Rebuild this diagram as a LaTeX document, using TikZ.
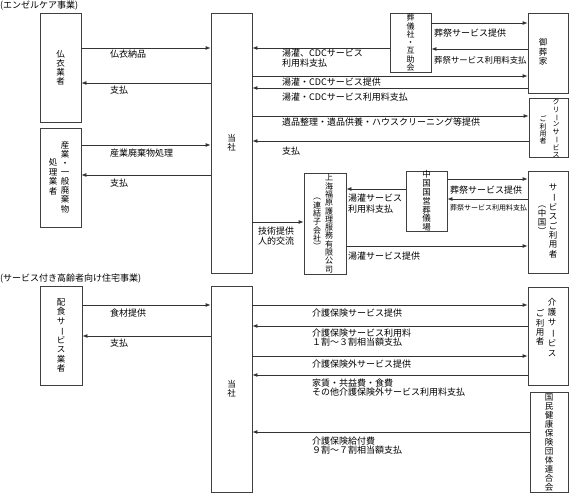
\documentclass[tikz,border=0pt]{standalone}
\usepackage{fontspec}
\newfontfamily\jp{Noto Sans CJK JP}
\usetikzlibrary{arrows.meta,fit}
\newcommand\vb{\rotatebox[origin=c]{-90}{ー}}
\begin{document}
\begin{tikzpicture}[x=1pt,y=-1pt,
  box/.style={draw=black!75, line width=0.8pt, inner sep=0pt},
  arr/.style={draw=black!80, line width=0.8pt, -{Latex[length=5pt,width=4pt]}},
  lab/.style={anchor=west, align=left, inner sep=0pt, font=\jp\fontsize{9}{10.5}\selectfont},
  vt/.style={align=center, inner sep=0pt, font=\jp\fontsize{8.5}{#1}\selectfont},
  vt/.default=9.2]
\useasboundingbox (0,0) rectangle (571,494);

% titles
\node[lab] (ttl1) at (0,6) {(エンゼルケア事業)};
\node[lab] (ttl2) at (0,279) {(サービス付き高齢者向け住宅事業)};

% boxes
\node[box, fit={(40,13) (81,122)}] (b1) {};
\node[box, fit={(40,128) (81,227)}] (b2) {};
\node[box, fit={(211,13) (252,273)}] (t1) {};
\node[box, fit={(390,13) (431,72)}] (sg) {};
\node[box, fit={(528,13) (568,93)}] (gs) {};
\node[box, fit={(529,98) (568,157)}] (cl) {};
\node[box, fit={(406,171) (447,231)}] (cn) {};
\node[box, fit={(304,173) (346,274)}] (sh) {};
\node[box, fit={(528,171) (568,273)}] (uc) {};
\node[box, fit={(40,286) (82,385)}] (hs) {};
\node[box, fit={(211,286) (252,492)}] (t2) {};
\node[box, fit={(528,287) (568,385)}] (ku) {};
\node[box, fit={(530,392) (568,492)}] (kk) {};

% box texts
\node[vt=9] (b1t) at (b1) {仏\\衣\\業\\者};
\node[vt=9.1] (b2t1) at (65,177) {産\\業\\・\\一\\般\\廃\\棄\\物};
\node[vt=9.5] (b2t2) at (53,177) {処\\理\\業\\者};
\node[vt=9.5] (t1t) at (t1) {当\\社};
\node[vt=8.25, font=\jp\fontsize{8}{8.25}\selectfont] (sgt) at (sg) {葬\\儀\\社\\・\\互\\助\\会};
\node[vt=9.25] (gst) at (543,52) {御\\葬\\家};
\node[vt, font=\jp\fontsize{7}{7.3}\selectfont] (clt1) at (556,128.5) {ク\\リ\\\vb\\ン\\サ\\\vb\\ビ\\ス};
\node[vt, font=\jp\fontsize{7}{7.3}\selectfont] (clt2) at (543,130) {ご\\利\\用\\者};
\node[vt=8.8] (cnt) at (cn) {中\\国\\国\\営\\葬\\儀\\場};
\node[vt, font=\jp\fontsize{8}{8.3}\selectfont] (sht1) at (329,223.5) {上\\海\\福\\原\\護\\理\\服\\務\\有\\限\\公\\司};
\node[vt, font=\jp\fontsize{8}{8.3}\selectfont] (sht2) at (317,224) {︵\\連\\結\\子\\会\\社\\︶};
\node[vt=9.4] (uct1) at (553,221) {サ\\\vb\\ビ\\ス\\ご\\利\\用\\者};
\node[vt=9] (uct2) at (542,220) {︵\\中\\国\\︶};
\node[vt=9.5] (hst) at (hs) {配\\食\\サ\\\vb\\ビ\\ス\\業\\者};
\node[vt=9.5] (t2t) at (t2) {当\\社};
\node[vt=10.2] (kut1) at (552,327.5) {介\\護\\サ\\\vb\\ビ\\ス};
\node[vt=9.3] (kut2) at (540,327.5) {ご\\利\\用\\者};
\node[vt=9] (kkt) at (kk) {国\\民\\健\\康\\保\\険\\団\\体\\連\\合\\会};

% connectors, top section
\draw[arr] (b1.east |- 0,48) -- (t1.west |- 0,48);
\node[lab] (l1) at (110,54) {仏衣納品};
\draw[arr] (t1.west |- 0,83) -- (b1.east |- 0,83);
\node[lab] (l2) at (110,90) {支払};
\draw[arr] (b2.east |- 0,145) -- (t1.west |- 0,145);
\node[lab] (l3) at (110,153) {産業廃棄物処理};
\draw[arr] (t1.west |- 0,175) -- (b2.east |- 0,175);
\node[lab] (l4) at (110,183) {支払};

\draw[arr] (sg.west |- 0,48) -- (t1.east |- 0,48);
\node[lab, font=\jp\fontsize{9}{10}\selectfont] (l5) at (282,58) {湯灌、CDCサービス\\利用料支払};
\draw[arr] (sg.east |- 0,23) -- (gs.west |- 0,23);
\node[lab] (l6) at (434,33) {葬祭サービス提供};
\draw[arr] (gs.west |- 0,49) -- (sg.east |- 0,49);
\node[lab, font=\jp\fontsize{8.4}{10}\selectfont] (l7) at (434,60) {葬祭サービス利用料支払};
\draw[arr] (t1.east |- 0,76) -- (gs.west |- 0,76);
\node[lab] (l8) at (282,82) {湯灌・CDCサービス提供};
\draw[arr] (gs.west |- 0,88) -- (t1.east |- 0,88);
\node[lab] (l9) at (282,97) {湯灌・CDCサービス利用料支払};
\draw[arr] (t1.east |- 0,116) -- (cl.west |- 0,116);
\node[lab] (l10) at (282,122) {遺品整理・遺品供養・ハウスクリーニング等提供};
\draw[arr] (cl.west |- 0,141) -- (t1.east |- 0,141);
\node[lab] (l11) at (282,151) {支払};

\draw[arr] (t1.east |- 0,222) -- (sh.west |- 0,222);
\node[lab, font=\jp\fontsize{9}{10}\selectfont] (l12) at (258,236) {技術提供\\人的交流};
\draw[arr] (cn.west |- 0,189) -- (sh.east |- 0,189);
\node[lab, font=\jp\fontsize{9}{11}\selectfont] (l13) at (348,204) {湯灌サービス\\利用料支払};
\draw[arr] (cn.east |- 0,179) -- (uc.west |- 0,179);
\node[lab] (l14) at (450,190) {葬祭サービス提供};
\draw[arr] (uc.west |- 0,199) -- (cn.east |- 0,199);
\node[lab, font=\jp\fontsize{7}{8}\selectfont] (l15) at (450,208) {葬祭サービス利用料支払};
\draw[arr] (sh.east |- 0,246) -- (uc.west |- 0,246);
\node[lab] (l16) at (348,256) {湯灌サービス提供};

% connectors, bottom section
\draw[arr] (hs.east |- 0,305) -- (t2.west |- 0,305);
\node[lab] (l17) at (110,313) {食材提供};
\draw[arr] (t2.west |- 0,336) -- (hs.east |- 0,336);
\node[lab] (l18) at (110,343) {支払};

\draw[arr] (t2.east |- 0,305) -- (ku.west |- 0,305);
\node[lab] (l19) at (312,313) {介護保険サービス提供};
\draw[arr] (ku.west |- 0,326) -- (t2.east |- 0,326);
\node[lab, font=\jp\fontsize{9}{9.5}\selectfont] (l20) at (312,337.5) {介護保険サービス利用料\\１割～３割相当額支払};
\draw[arr] (t2.east |- 0,356) -- (ku.west |- 0,356);
\node[lab] (l21) at (312,364) {介護保険外サービス提供};
\draw[arr] (ku.west |- 0,375) -- (t2.east |- 0,375);
\node[lab, font=\jp\fontsize{9}{9.5}\selectfont] (l22) at (312,387.5) {家賃・共益費・食費\\その他介護保険外サービス利用料支払};
\draw[arr] (kk.west |- 0,432) -- (t2.east |- 0,432);
\node[lab, font=\jp\fontsize{9}{9.5}\selectfont] (l23) at (312,445.5) {介護保険給付費\\９割～７割相当額支払};
\end{tikzpicture}
\end{document}
